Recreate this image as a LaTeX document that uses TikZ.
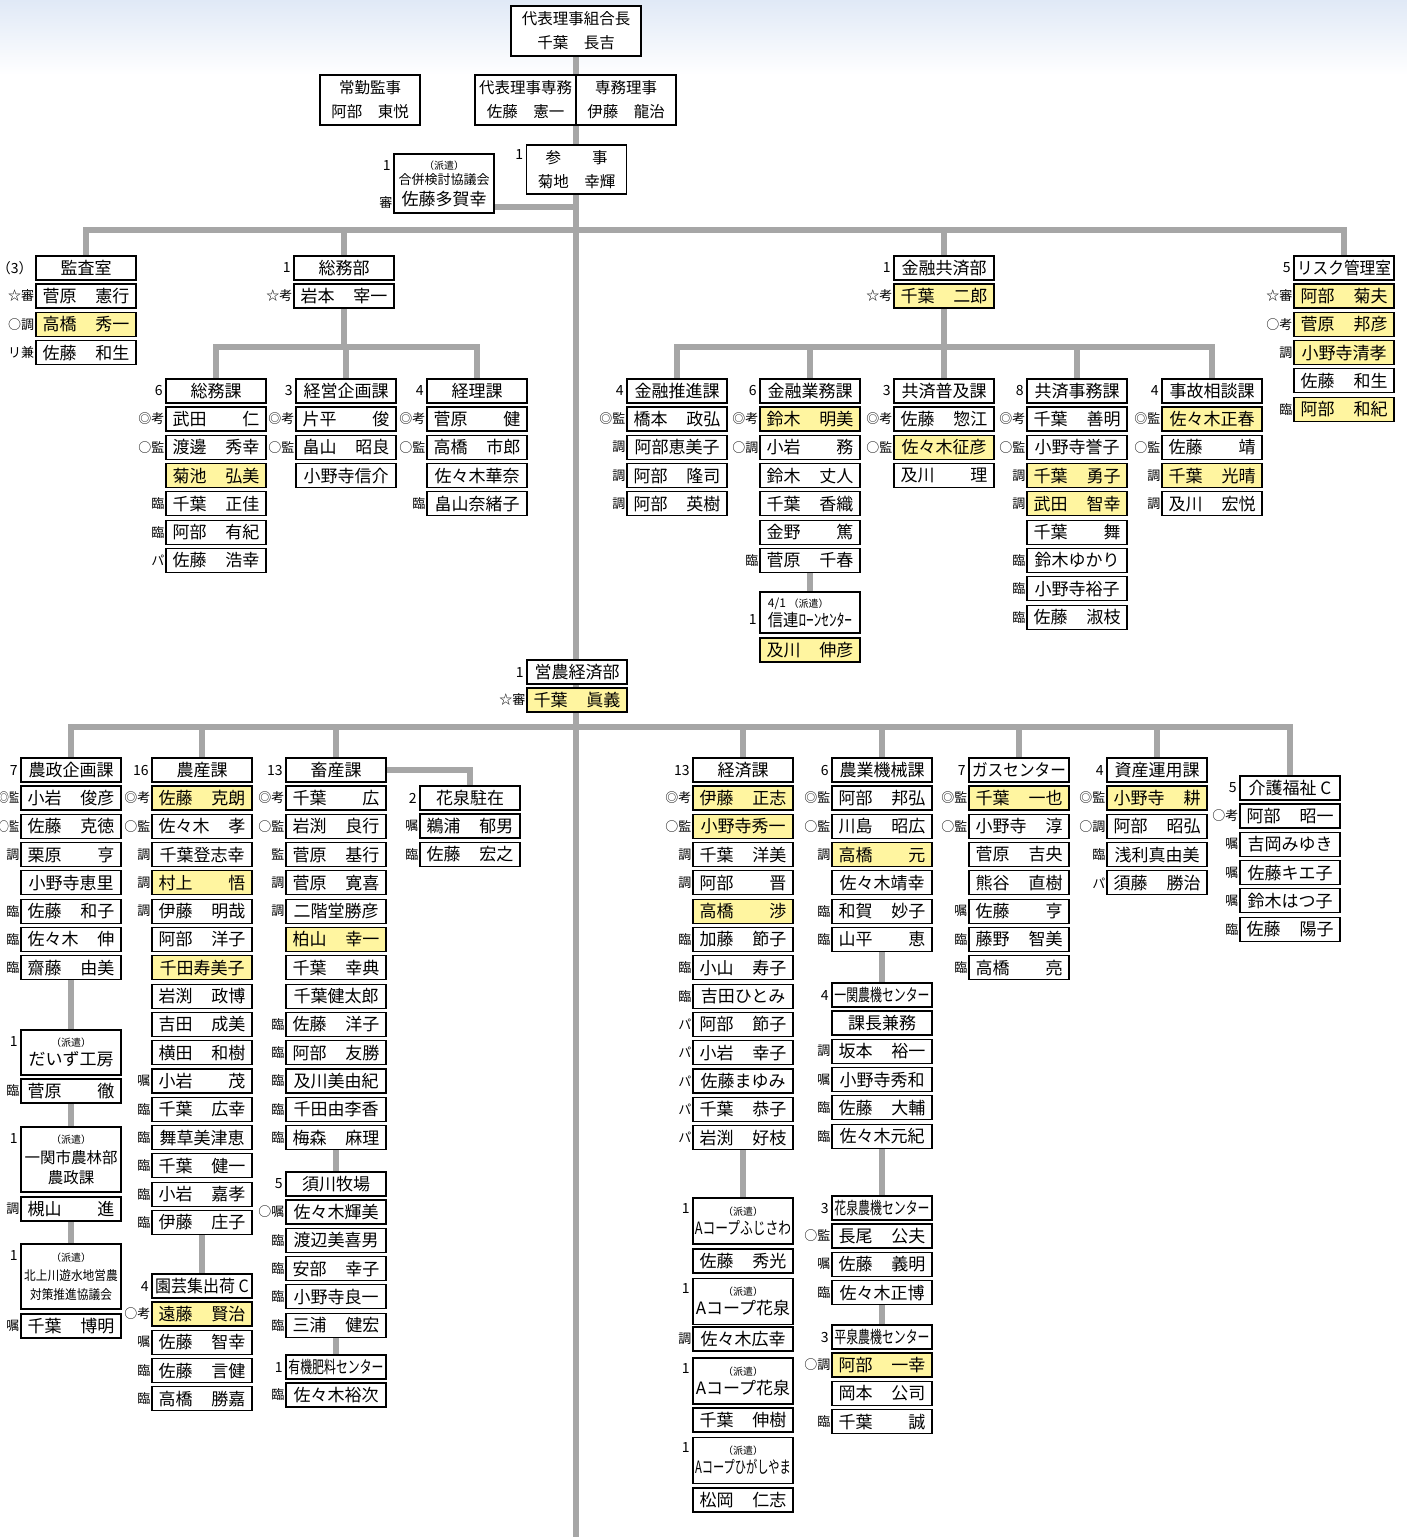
\documentclass[tikz,border=0pt]{standalone}
\usepackage{fontspec}
\setmainfont{Noto Sans CJK JP}
\usepackage{graphicx}
\usetikzlibrary{positioning,backgrounds}
\definecolor{NameYellow}{RGB}{255,245,160}
\definecolor{LineGray}{RGB}{166,166,166}
\definecolor{SkyTop}{RGB}{224,233,246}
\colorlet{wh}{white}
\colorlet{yl}{NameYellow}
\tikzset{
  staff/.style={draw=black, line width=1.1pt, fill=white, minimum width=100pt, minimum height=24pt,
    inner sep=0pt, font=\fontsize{17}{19}\selectfont, align=center},
  topbox/.style={staff, minimum height=50pt, font=\fontsize{15.5}{24}\selectfont},
  sentbox/.style={staff, minimum height=46pt},
  role/.style={anchor=east, inner sep=1pt, font=\fontsize{13}{13}\selectfont},
  cnt/.style={anchor=east, inner sep=2.5pt, font=\fontsize{14}{14}\selectfont},
  trunk/.style={draw=LineGray, line width=6pt},
}
\newcommand{\spname}[2]{\hbox to 87pt{#1\hfill#2}}
\newcommand{\hsqz}[2]{\scalebox{#1}[1]{#2}}
\newcommand{\haken}{{\fontsize{10}{10}\selectfont （派遣）}}
% header box with its head count
\newcommand{\dept}[5]{%
  \node[staff] (#1) at (#2,#3) {#5};
  \node[cnt] at (#1.west) {#4};}
% member boxes under a header: role/name/fill
\newcommand{\crew}[4]{%
  \foreach \rl/\nme/\fl [count=\i] in {#4} {
    \node[staff, fill=\fl] (#1\i) at (#2,{#3+28.3*(\i-1)}) {\nme};
    \node[role] at (#1\i.west) {\rl};
  }}

\begin{document}
\begin{tikzpicture}[x=1pt, y=-1pt]
  \useasboundingbox (0,0) rectangle (1407,1537);

  % board
  \node[topbox, minimum width=130pt] (chief) at (576,31) {代表理事組合長\\千葉　長吉};
  \node[topbox] (auditor) at (370,100) {常勤監事\\阿部　東悦};
  \node[topbox, minimum width=101pt] (vicechief) at (525.5,100) {代表理事専務\\佐藤　憲一};
  \node[topbox] (director) at (626,100) {専務理事\\伊藤　龍治};
  \node[topbox, minimum height=49pt] (sanji) at (576.5,169.5) {参\hspace{2em}事\\菊地　幸輝};
  \node[cnt] at ([yshift=-10pt]sanji.north west) {1};
  \node[staff, minimum height=59pt] (gappei) at (444,183.5)
    {\haken\\[-4pt]{\fontsize{13}{13}\selectfont 合併検討協議会}\\[2pt]佐藤多賀幸};
  \node[cnt] at ([yshift=-12pt]gappei.north west) {1};
  \node[role] at ([yshift=-49pt]gappei.north west) {審};

  % first tier
  \dept{kansa}{86}{268}{（3）}{監査室}
  \crew{kansa}{86}{296}{☆審/\spname{菅原}{憲行}/wh, ○調/\spname{高橋}{秀一}/yl, リ兼/\spname{佐藤}{和生}/wh}
  \dept{somubu}{344}{268}{1}{総務部}
  \crew{somubu}{344}{296}{☆考/\spname{岩本}{宰一}/wh}
  \dept{kinbu}{944}{268}{1}{金融共済部}
  \crew{kinbu}{944}{296}{☆考/\spname{千葉}{二郎}/yl}
  \dept{risk}{1344}{268}{5}{\hsqz{0.92}{リスク管理室}}
  \crew{risk}{1344}{296}{☆審/\spname{阿部}{菊夫}/yl, ○考/\spname{菅原}{邦彦}/yl, 調/小野寺清孝/yl,
    /\spname{佐藤}{和生}/wh, 臨/\spname{阿部}{和紀}/yl}

  % sections
  \dept{somuka}{216}{391}{6}{総務課}
  \crew{somuka}{216}{419}{◎考/\spname{武田}{仁}/wh, ○監/\spname{渡邊}{秀幸}/wh, /\spname{菊池}{弘美}/yl,
    臨/\spname{千葉}{正佳}/wh, 臨/\spname{阿部}{有紀}/wh, パ/\spname{佐藤}{浩幸}/wh}
  \dept{keiei}{346}{391}{3}{経営企画課}
  \crew{keiei}{346}{419}{◎考/\spname{片平}{俊}/wh, ○監/\spname{畠山}{昭良}/wh, /小野寺信介/wh}
  \dept{keiri}{477}{391}{4}{経理課}
  \crew{keiri}{477}{419}{◎考/\spname{菅原}{健}/wh, ○監/\spname{高橋}{市郎}/wh, /佐々木華奈/wh, 臨/畠山奈緒子/wh}
  \dept{kinsui}{677}{391}{4}{金融推進課}
  \crew{kinsui}{677}{419}{◎監/\spname{橋本}{政弘}/wh, 調/阿部恵美子/wh, 調/\spname{阿部}{隆司}/wh,
    調/\spname{阿部}{英樹}/wh}
  \dept{kingyo}{810}{391}{6}{金融業務課}
  \crew{kingyo}{810}{419}{◎考/\spname{鈴木}{明美}/yl, ○調/\spname{小岩}{務}/wh, /\spname{鈴木}{丈人}/wh,
    /\spname{千葉}{香織}/wh, /\spname{金野}{篤}/wh, 臨/\spname{菅原}{千春}/wh}
  \node[staff, minimum height=41pt, align=left] (shinren) at (810,612.5)
    {{\fontsize{12}{12}\selectfont 4/1 \fontsize{10}{10}\selectfont（派遣）}\\\hsqz{0.9}{信連ﾛｰﾝｾﾝﾀｰ}};
  \node[cnt] at ([yshift=-28pt]shinren.north west) {1};
  \crew{shinren}{810}{650}{/\spname{及川}{伸彦}/yl}
  \dept{kyofu}{944}{391}{3}{共済普及課}
  \crew{kyofu}{944}{419}{◎考/\spname{佐藤}{惣江}/wh, ○監/佐々木征彦/yl, /\spname{及川}{理}/wh}
  \dept{kyoji}{1077}{391}{8}{共済事務課}
  \crew{kyoji}{1077}{419}{◎考/\spname{千葉}{善明}/wh, ○監/小野寺誉子/wh, 調/\spname{千葉}{勇子}/yl,
    調/\spname{武田}{智幸}/yl, /\spname{千葉}{舞}/wh, 臨/鈴木ゆかり/wh, 臨/小野寺裕子/wh, 臨/\spname{佐藤}{淑枝}/wh}
  \dept{jiko}{1212}{391}{4}{事故相談課}
  \crew{jiko}{1212}{419}{◎監/佐々木正春/yl, ○監/\spname{佐藤}{靖}/wh, 調/\spname{千葉}{光晴}/yl,
    調/\spname{及川}{宏悦}/wh}

  % farming division
  \dept{einou}{577}{672}{1}{営農経済部}
  \crew{einou}{577}{700}{☆審/\spname{千葉}{眞義}/yl}

  \dept{nosei}{71}{770}{7}{農政企画課}
  \crew{nosei}{71}{798}{\hsqz{0.78}{◎監}/\spname{小岩}{俊彦}/wh, \hsqz{0.78}{○監}/\spname{佐藤}{克徳}/wh,
    調/\spname{栗原}{亨}/wh, /小野寺恵里/wh, 臨/\spname{佐藤}{和子}/wh, 臨/\spname{佐々木}{伸}/wh,
    臨/\spname{齋藤}{由美}/wh}
  \node[sentbox, minimum height=45pt] (daizu) at (71,1052.5) {\haken\\だいず工房};
  \node[cnt] at ([yshift=-12pt]daizu.north west) {1};
  \crew{daizu}{71}{1091}{臨/\spname{菅原}{徹}/wh}
  \node[sentbox, minimum height=65pt, font=\fontsize{15.5}{20}\selectfont] (ichinoseki) at (71,1159.5)
    {\haken\\一関市農林部\\農政課};
  \node[cnt] at ([yshift=-12pt]ichinoseki.north west) {1};
  \crew{ichinoseki}{71}{1209}{調/\spname{槻山}{進}/wh}
  \node[sentbox, minimum height=65pt, font=\fontsize{13}{19}\selectfont] (kitakami) at (71,1276.5)
    {\haken\\\hsqz{0.9}{北上川遊水地営農}\\\hsqz{0.9}{対策推進協議会}};
  \node[cnt] at ([yshift=-12pt]kitakami.north west) {1};
  \crew{kitakami}{71}{1326}{嘱/\spname{千葉}{博明}/wh}

  \dept{nosan}{202}{770}{16}{農産課}
  \crew{nosan}{202}{798}{◎考/\spname{佐藤}{克朗}/yl, ○監/\spname{佐々木}{孝}/wh, 調/千葉登志幸/wh,
    調/\spname{村上}{悟}/yl, 調/\spname{伊藤}{明哉}/wh, /\spname{阿部}{洋子}/wh, /千田寿美子/yl,
    /\spname{岩渕}{政博}/wh, /\spname{吉田}{成美}/wh, /\spname{横田}{和樹}/wh, 嘱/\spname{小岩}{茂}/wh,
    臨/\spname{千葉}{広幸}/wh, 臨/舞草美津恵/wh, 臨/\spname{千葉}{健一}/wh, 臨/\spname{小岩}{嘉孝}/wh,
    臨/\spname{伊藤}{庄子}/wh}
  \dept{engei}{202}{1286}{4}{\hsqz{0.94}{園芸集出荷 C}}
  \crew{engei}{202}{1314}{○考/\spname{遠藤}{賢治}/yl, 嘱/\spname{佐藤}{智幸}/wh, 臨/\spname{佐藤}{言健}/wh,
    臨/\spname{高橋}{勝嘉}/wh}

  \dept{chiku}{336}{770}{13}{畜産課}
  \crew{chiku}{336}{798}{◎考/\spname{千葉}{広}/wh, ○監/\spname{岩渕}{良行}/wh, 監/\spname{菅原}{基行}/wh,
    調/\spname{菅原}{寛喜}/wh, 調/二階堂勝彦/wh, /\spname{柏山}{幸一}/yl, /\spname{千葉}{幸典}/wh,
    /千葉健太郎/wh, 臨/\spname{佐藤}{洋子}/wh, 臨/\spname{阿部}{友勝}/wh, 臨/及川美由紀/wh,
    臨/千田由李香/wh, 臨/\spname{梅森}{麻理}/wh}
  \dept{sugawa}{336}{1184}{5}{須川牧場}
  \crew{sugawa}{336}{1212}{○嘱/佐々木輝美/wh, 臨/渡辺美喜男/wh, 臨/\spname{安部}{幸子}/wh,
    臨/小野寺良一/wh, 臨/\spname{三浦}{健宏}/wh}
  \dept{yuki}{336}{1367}{1}{\hsqz{0.7}{有機肥料センター}}
  \crew{yuki}{336}{1395}{臨/佐々木裕次/wh}

  \dept{hanachu}{470}{798}{2}{花泉駐在}
  \crew{hanachu}{470}{826}{嘱/\spname{鵜浦}{郁男}/wh, 臨/\spname{佐藤}{宏之}/wh}

  \dept{keizai}{743}{770}{13}{経済課}
  \crew{keizai}{743}{798}{◎考/\spname{伊藤}{正志}/yl, ○監/小野寺秀一/yl, 調/\spname{千葉}{洋美}/wh,
    調/\spname{阿部}{晋}/wh, /\spname{高橋}{渉}/yl, 臨/\spname{加藤}{節子}/wh, 臨/\spname{小山}{寿子}/wh,
    臨/吉田ひとみ/wh, パ/\spname{阿部}{節子}/wh, パ/\spname{小岩}{幸子}/wh, パ/佐藤まゆみ/wh,
    パ/\spname{千葉}{恭子}/wh, パ/\spname{岩渕}{好枝}/wh}
  \node[sentbox] (fujisawa) at (743,1221) {\haken\\\hsqz{0.75}{Aコープふじさわ}};
  \node[cnt] at ([yshift=-11pt]fujisawa.north west) {1};
  \crew{fujisawa}{743}{1261}{/\spname{佐藤}{秀光}/wh}
  \node[sentbox] (hanaA) at (743,1301.5) {\haken\\Aコープ花泉};
  \node[cnt] at ([yshift=-11pt]hanaA.north west) {1};
  \crew{hanaA}{743}{1339}{調/佐々木広幸/wh}
  \node[sentbox] (hanaB) at (743,1381) {\haken\\Aコープ花泉};
  \node[cnt] at ([yshift=-11pt]hanaB.north west) {1};
  \crew{hanaB}{743}{1420}{/\spname{千葉}{伸樹}/wh}
  \node[sentbox] (higashi) at (743,1460.5) {\haken\\\hsqz{0.66}{Aコープひがしやま}};
  \node[cnt] at ([yshift=-11pt]higashi.north west) {1};
  \crew{higashi}{743}{1500}{/\spname{松岡}{仁志}/wh}

  \dept{noki}{882}{770}{6}{農業機械課}
  \crew{noki}{882}{798}{◎監/\spname{阿部}{邦弘}/wh, ○監/\spname{川島}{昭広}/wh, 調/\spname{高橋}{元}/yl,
    /佐々木靖幸/wh, 臨/\spname{和賀}{妙子}/wh, 臨/\spname{山平}{恵}/wh}
  \dept{ichinoki}{882}{995}{4}{\hsqz{0.7}{一関農機センター}}
  \crew{ichinoki}{882}{1023}{/課長兼務/wh, 調/\spname{坂本}{裕一}/wh, 嘱/小野寺秀和/wh,
    臨/\spname{佐藤}{大輔}/wh, 臨/佐々木元紀/wh}
  \dept{hanaki}{882}{1208}{3}{\hsqz{0.7}{花泉農機センター}}
  \crew{hanaki}{882}{1236}{○監/\spname{長尾}{公夫}/wh, 嘱/\spname{佐藤}{義明}/wh, 臨/佐々木正博/wh}
  \dept{hiraki}{882}{1337}{3}{\hsqz{0.7}{平泉農機センター}}
  \crew{hiraki}{882}{1365}{○調/\spname{阿部}{一幸}/yl, /\spname{岡本}{公司}/wh, 臨/\spname{千葉}{誠}/wh}

  \dept{gas}{1019}{770}{7}{\hsqz{0.92}{ガスセンター}}
  \crew{gas}{1019}{798}{◎監/\spname{千葉}{一也}/yl, ○監/\spname{小野寺}{淳}/wh, /\spname{菅原}{吉央}/wh,
    /\spname{熊谷}{直樹}/wh, 嘱/\spname{佐藤}{亨}/wh, 臨/\spname{藤野}{智美}/wh, 臨/\spname{高橋}{亮}/wh}
  \dept{shisan}{1157}{770}{4}{資産運用課}
  \crew{shisan}{1157}{798}{◎監/\spname{小野寺}{耕}/yl, ○調/\spname{阿部}{昭弘}/wh, 臨/浅利真由美/wh,
    パ/\spname{須藤}{勝治}/wh}
  \dept{kaigo}{1290}{788}{5}{介護福祉 C}
  \crew{kaigo}{1290}{816}{○考/\spname{阿部}{昭一}/wh, 嘱/吉岡みゆき/wh, 嘱/佐藤キエ子/wh,
    嘱/鈴木はつ子/wh, 臨/\spname{佐藤}{陽子}/wh}

  % grey lines behind the boxes
  \coordinate (spineend) at (576,1537);
  \coordinate (gapjoin) at (576,207);
  \coordinate (bartop) at (576,230);
  \coordinate (barsomu) at (344,347);
  \coordinate (barkin) at (944,347);
  \coordinate (bareino) at (576,727);
  \begin{scope}[on background layer]
    \fill[white] (0,0) rectangle (1407,1537);
    \shade[top color=SkyTop, bottom color=white] (0,0) rectangle (1407,75);
    \draw[trunk] (chief.south) -- (spineend);
    \draw[trunk] (gappei.east |- gapjoin) -- (gapjoin);
    \draw[trunk] (kansa.north) -- (kansa.north |- bartop) -- (risk.north |- bartop) -- (risk.north);
    \foreach \d in {somubu, kinbu} \draw[trunk] (\d.north) -- (\d.north |- bartop);
    \draw[trunk] (somubu1.south) -- (barsomu);
    \draw[trunk] (somuka.north) -- (somuka.north |- barsomu) -- (keiri.north |- barsomu) -- (keiri.north);
    \draw[trunk] (keiei.north) -- (keiei.north |- barsomu);
    \draw[trunk] (kinbu1.south) -- (barkin);
    \draw[trunk] (kinsui.north) -- (kinsui.north |- barkin) -- (jiko.north |- barkin) -- (jiko.north);
    \foreach \d in {kingyo, kyofu, kyoji} \draw[trunk] (\d.north) -- (\d.north |- barkin);
    \draw[trunk] (kingyo6.south) -- (shinren.north);
    \draw[trunk] (nosei.north) -- (nosei.north |- bareino) -- (kaigo.north |- bareino) -- (kaigo.north);
    \foreach \d in {nosan, chiku, keizai, noki, gas, shisan} \draw[trunk] (\d.north) -- (\d.north |- bareino);
    \draw[trunk] (chiku.east) -| (hanachu.north);
    \draw[trunk] (nosei7.south) -- (daizu.north);
    \draw[trunk] (daizu1.south) -- (ichinoseki.north);
    \draw[trunk] (ichinoseki1.south) -- (kitakami.north);
    \draw[trunk] (nosan16.south) -- (engei.north);
    \draw[trunk] (chiku13.south) -- (sugawa.north);
    \draw[trunk] (sugawa5.south) -- (yuki.north);
    \draw[trunk] (keizai13.south) -- (fujisawa.north);
    \draw[trunk] (noki6.south) -- (ichinoki.north);
    \draw[trunk] (ichinoki5.south) -- (hanaki.north);
    \draw[trunk] (hanaki3.south) -- (hiraki.north);
  \end{scope}
\end{tikzpicture}
\end{document}
